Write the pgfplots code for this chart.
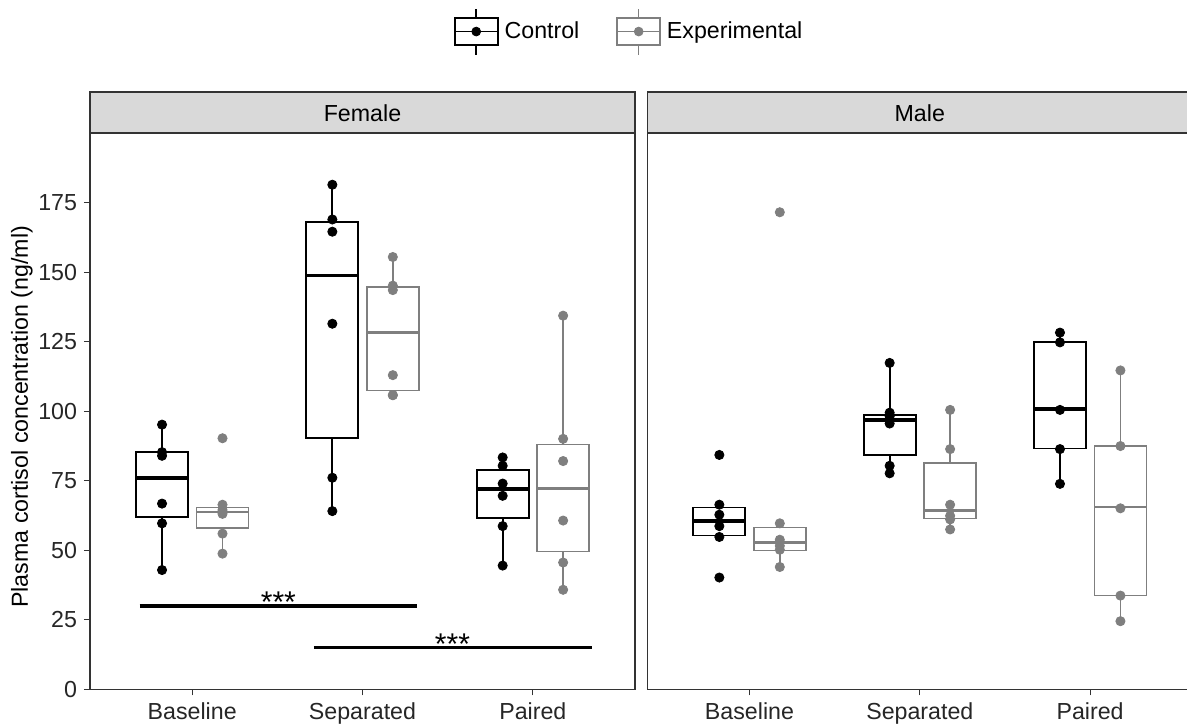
\documentclass[border=0pt]{standalone}
\usepackage{fontspec}
\setmainfont{Liberation Sans}
\usepackage{pgfplots}
\pgfplotsset{compat=1.18}
\usepgfplotslibrary{statistics}
\definecolor{expg}{RGB}{127,127,127}
\definecolor{stripg}{RGB}{217,217,217}
\definecolor{frame}{RGB}{51,51,51}
\newcommand{\lblfont}{\fontsize{11.6bp}{13bp}\selectfont}
\pgfplotsset{
  panel/.style={
    scale only axis, width=272.5bp, height=278bp,
    xmin=0.4, xmax=3.6, ymin=0, ymax=200,
    xtick={1,2,3}, xticklabels={Baseline,Separated,Paired},
    axis line style={draw=frame, line width=0.8bp},
    tick style={draw=frame, line width=0.6bp},
    tick align=outside, major tick length=3bp,
    xtick pos=bottom, ytick pos=left,
    tick label style={font=\lblfont, text=black!85},
    /pgf/number format/assume math mode=true,
    clip=false,
    boxplot/draw direction=y,
  },
  cbox/.style={draw=black, fill=none, line width=0.9bp, solid, mark=none,
    boxplot/whisker extend=0, boxplot/box extend=0.305,
    boxplot/every median/.style={line width=1.8bp}},
  ebox/.style={draw=expg, fill=none, line width=0.8bp, solid, mark=none,
    boxplot/whisker extend=0, boxplot/box extend=0.305,
    boxplot/every median/.style={line width=1.4bp}},
  cpts/.style={only marks, mark=*, mark size=2.3bp, color=black},
  epts/.style={only marks, mark=*, mark size=2.3bp, color=expg},
}
\begin{document}
\begin{tikzpicture}
\useasboundingbox (0,0) rectangle (593.5bp,363.5bp);
\clip (0,0) rectangle (593.5bp,363.5bp);
% ---------------- Female ----------------
\begin{axis}[panel, name=f, at={(45bp,18.85bp)}, anchor=south west,
  ytick={0,25,50,75,100,125,150,175},
  ylabel={Plasma cortisol concentration (ng/ml)},
  ylabel style={font=\lblfont, at={(axis description cs:-0.1248,0.49)}, anchor=center},
  legend style={draw=none, fill=none, at={(axis description cs:0.991,1.183)}, anchor=center,
    font=\lblfont, /tikz/every even column/.append style={column sep=16.5bp},
    /tikz/every odd column/.append style={column sep=1bp}},
  legend columns=2, legend cell align=left]
\addlegendimage{legend image code/.code={
  \draw[black,line width=0.9bp,fill=white] (0bp,-6.75bp) rectangle (21.5bp,6.75bp);
  \draw[black,line width=0.9bp] (0bp,0bp) -- (21.5bp,0bp) (10.75bp,6.75bp) -- (10.75bp,11.5bp) (10.75bp,-6.75bp) -- (10.75bp,-11.5bp);
  \fill[black] (10.75bp,0bp) circle (2.2bp);}}
\addlegendentry{Control}
\addlegendimage{legend image code/.code={
  \draw[expg,line width=0.8bp,fill=white] (0bp,-6.75bp) rectangle (21.5bp,6.75bp);
  \draw[expg,line width=0.8bp] (0bp,0bp) -- (21.5bp,0bp) (10.75bp,6.75bp) -- (10.75bp,11.5bp) (10.75bp,-6.75bp) -- (10.75bp,-11.5bp);
  \fill[expg] (10.75bp,0bp) circle (2.2bp);}}
\addlegendentry{Experimental}
% boxes
\addplot+[cbox, boxplot prepared={draw position=0.823, lower whisker=42.9, lower quartile=62.0, median=75.9, upper quartile=85.3, upper whisker=95.2}] coordinates {};
\addplot+[ebox, boxplot prepared={draw position=1.178, lower whisker=48.8, lower quartile=58.0, median=63.8, upper quartile=65.4, upper whisker=66.4}] coordinates {};
\addplot+[cbox, boxplot prepared={draw position=1.823, lower whisker=64.1, lower quartile=90.3, median=148.8, upper quartile=168.0, upper whisker=181.5}] coordinates {};
\addplot+[ebox, boxplot prepared={draw position=2.178, lower whisker=105.8, lower quartile=107.5, median=128.4, upper quartile=144.7, upper whisker=155.5}] coordinates {};
\addplot+[cbox, boxplot prepared={draw position=2.823, lower whisker=44.5, lower quartile=61.5, median=72.1, upper quartile=78.9, upper whisker=83.4}] coordinates {};
\addplot+[ebox, boxplot prepared={draw position=3.178, lower whisker=35.8, lower quartile=49.5, median=72.1, upper quartile=88.0, upper whisker=134.4}] coordinates {};
% points
\addplot[cpts] coordinates {(0.823,95.2)(0.823,85.3)(0.823,84.0)(0.823,66.8)(0.823,59.7)(0.823,42.9)
  (1.823,181.5)(1.823,169.0)(1.823,164.6)(1.823,131.5)(1.823,76.1)(1.823,64.1)
  (2.823,83.4)(2.823,80.4)(2.823,74.0)(2.823,69.6)(2.823,58.7)(2.823,44.5)};
\addplot[epts] coordinates {(1.178,90.3)(1.178,66.4)(1.178,64.5)(1.178,63.1)(1.178,56.0)(1.178,48.8)
  (2.178,155.5)(2.178,145.2)(2.178,143.6)(2.178,113.0)(2.178,105.8)(2.178,105.8)
  (3.178,134.4)(3.178,90.1)(3.178,82.1)(3.178,60.7)(3.178,45.6)(3.178,35.8)};
% significance
\addplot[black, line width=1.8bp, mark=none] coordinates {(0.692,30)(2.321,30)};
\addplot[black, line width=1.8bp, mark=none] coordinates {(1.714,15)(3.345,15)};
\node[font=\fontsize{15bp}{16bp}\selectfont, anchor=base, inner sep=0pt] at (axis cs:1.506,27.6) {***};
\node[font=\fontsize{15bp}{16bp}\selectfont, anchor=base, inner sep=0pt] at (axis cs:2.528,12.5) {***};
\end{axis}
\draw[fill=stripg, draw=frame, line width=0.8bp] (f.north west) rectangle ([yshift=20.5bp]f.north east);
\node[font=\lblfont] at ([yshift=10.25bp]f.north) {Female};
% ---------------- Male ----------------
\begin{axis}[panel, name=m, at={(323.65bp,18.85bp)}, anchor=south west, ytick=\empty]
\addplot+[cbox, boxplot prepared={draw position=0.823, lower whisker=54.8, lower quartile=55.3, median=60.6, upper quartile=65.4, upper whisker=66.4}] coordinates {};
\addplot+[ebox, boxplot prepared={draw position=1.178, lower whisker=44.0, lower quartile=49.9, median=52.9, upper quartile=58.2, upper whisker=59.7}] coordinates {};
\addplot+[cbox, boxplot prepared={draw position=1.823, lower whisker=77.7, lower quartile=84.3, median=96.9, upper quartile=98.8, upper whisker=117.4}] coordinates {};
\addplot+[ebox, boxplot prepared={draw position=2.178, lower whisker=57.5, lower quartile=61.5, median=64.4, upper quartile=81.5, upper whisker=100.5}] coordinates {};
\addplot+[cbox, boxplot prepared={draw position=2.823, lower whisker=73.9, lower quartile=86.6, median=100.8, upper quartile=125.0, upper whisker=128.3}] coordinates {};
\addplot+[ebox, boxplot prepared={draw position=3.178, lower whisker=24.5, lower quartile=33.7, median=65.6, upper quartile=87.5, upper whisker=114.7}] coordinates {};
\addplot[cpts] coordinates {(0.823,84.3)(0.823,66.4)(0.823,62.8)(0.823,58.7)(0.823,54.8)(0.823,40.2)
  (1.823,117.4)(1.823,99.5)(1.823,98.2)(1.823,95.6)(1.823,80.4)(1.823,77.7)
  (2.823,128.3)(2.823,124.8)(2.823,100.5)(2.823,86.4)(2.823,73.9)};
\addplot[epts] coordinates {(1.178,171.6)(1.178,59.7)(1.178,53.8)(1.178,51.6)(1.178,50.2)(1.178,44.0)
  (2.178,100.5)(2.178,86.4)(2.178,66.4)(2.178,62.4)(2.178,61.1)(2.178,57.5)
  (3.178,114.7)(3.178,87.5)(3.178,65.1)(3.178,33.7)(3.178,24.5)};
\end{axis}
\draw[fill=stripg, draw=frame, line width=0.8bp] (m.north west) rectangle ([yshift=20.5bp]m.north east);
\node[font=\lblfont] at ([yshift=10.25bp]m.north) {Male};
\end{tikzpicture}
\end{document}
